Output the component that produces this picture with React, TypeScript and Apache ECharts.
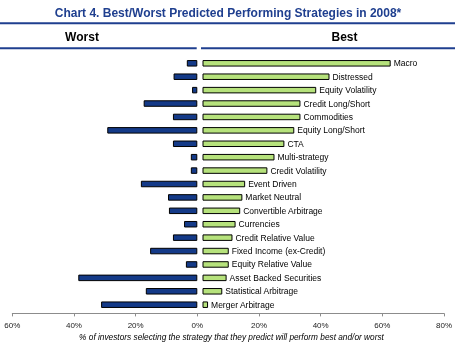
import React, { useEffect, useRef } from 'react';
import * as echarts from 'echarts';

const categories = [
  'Macro',
  'Distressed',
  'Equity Volatility',
  'Credit Long/Short',
  'Commodities',
  'Equity Long/Short',
  'CTA',
  'Multi-strategy',
  'Credit Volatility',
  'Event Driven',
  'Market Neutral',
  'Convertible Arbitrage',
  'Currencies',
  'Credit Relative Value',
  'Fixed Income (ex-Credit)',
  'Equity Relative Value',
  'Asset Backed Securities',
  'Statistical Arbitrage',
  'Merger Arbitrage',
];

const worstValues = [3.4, 7.7, 1.7, 17.4, 7.9, 29.2, 7.9, 2.1, 2.1, 18.3, 9.5, 9.2, 4.3, 7.9, 15.3, 3.7, 38.6, 16.7, 31.2];
const bestValues = [60.9, 41.1, 36.8, 31.7, 31.7, 29.7, 26.5, 23.3, 21.0, 13.8, 12.9, 12.2, 10.7, 9.7, 8.5, 8.5, 7.8, 6.4, 1.8];

const titleText = 'Chart 4. Best/Worst Predicted Performing Strategies in 2008*';
const worstHeader = 'Worst';
const bestHeader = 'Best';
const axisTitle = '% of investors selecting the strategy that they predict will perform best and/or worst';

export default function App() {
  const ref = useRef<HTMLDivElement>(null);
  useEffect(() => {
    const chart = echarts.init(ref.current!, null, { renderer: 'svg' });
    const font = 'Liberation Sans, Arial, sans-serif';
    const navy = '#1F3F8F';
    chart.setOption({
      animation: false,
      textStyle: { fontFamily: font },
      grid: [
        { left: 12.3, right: 9.7, top: 56.6, bottom: 44.6 },
        { left: 202.5, right: 5.3, top: 56.6, bottom: 44.6 },
      ],
      xAxis: [
        {
          gridIndex: 0,
          type: 'value',
          min: -60,
          max: 80,
          interval: 20,
          offset: 2,
          axisLine: { show: true, lineStyle: { color: '#8c8c8c', width: 1 } },
          axisTick: { show: true, length: 3, lineStyle: { color: '#8c8c8c' } },
          splitLine: { show: false },
          axisLabel: {
            formatter: (v: number) => Math.abs(v) + '%',
            fontSize: 8,
            color: '#222',
            margin: 8,
            fontFamily: font,
          },
        },
        { gridIndex: 1, type: 'value', min: 0, max: 80, show: false, splitLine: { show: false } },
      ],
      yAxis: [
        { gridIndex: 0, type: 'category', data: categories, inverse: true, show: false },
        { gridIndex: 1, type: 'category', data: categories, inverse: true, show: false },
      ],
      series: [
        {
          type: 'bar',
          name: 'Worst',
          xAxisIndex: 0,
          yAxisIndex: 0,
          data: worstValues.map((v) => -v),
          barWidth: 6.5,
          itemStyle: { color: '#143A88', borderColor: '#000', borderWidth: 1 },
        },
        {
          type: 'bar',
          name: 'Best',
          xAxisIndex: 1,
          yAxisIndex: 1,
          data: bestValues,
          barWidth: 6.5,
          itemStyle: { color: '#B6E27C', borderColor: '#000', borderWidth: 1 },
          label: {
            show: true,
            position: 'right',
            distance: 3,
            formatter: (p: any) => p.name,
            fontSize: 8.5,
            color: '#000',
            fontFamily: font,
          },
        },
      ],
      graphic: [
        {
          type: 'text',
          x: 228,
          y: 12.5,
          style: {
            text: titleText,
            fill: navy,
            font: 'bold 12px ' + font,
            textAlign: 'center',
            textVerticalAlign: 'middle',
          },
        },
        { type: 'line', shape: { x1: 0, y1: 23.3, x2: 455, y2: 23.3 }, style: { stroke: navy, lineWidth: 2 } },
        {
          type: 'text',
          x: 82,
          y: 36.5,
          style: { text: worstHeader, fill: '#000', font: 'bold 12px ' + font, textAlign: 'center', textVerticalAlign: 'middle' },
        },
        {
          type: 'text',
          x: 344.5,
          y: 36.5,
          style: { text: bestHeader, fill: '#000', font: 'bold 12px ' + font, textAlign: 'center', textVerticalAlign: 'middle' },
        },
        { type: 'line', shape: { x1: 0, y1: 48.3, x2: 196.7, y2: 48.3 }, style: { stroke: navy, lineWidth: 2 } },
        { type: 'line', shape: { x1: 201, y1: 48.3, x2: 455, y2: 48.3 }, style: { stroke: navy, lineWidth: 2 } },
        {
          type: 'text',
          x: 231.5,
          y: 337,
          style: { text: axisTitle, fill: '#000', font: 'italic 8.3px ' + font, textAlign: 'center', textVerticalAlign: 'middle' },
        },
      ],
    });
    return () => chart.dispose();
  }, []);
  return <div ref={ref} style={{ position: 'fixed', left: 0, top: 0, width: 455, height: 356 }} />;
}
